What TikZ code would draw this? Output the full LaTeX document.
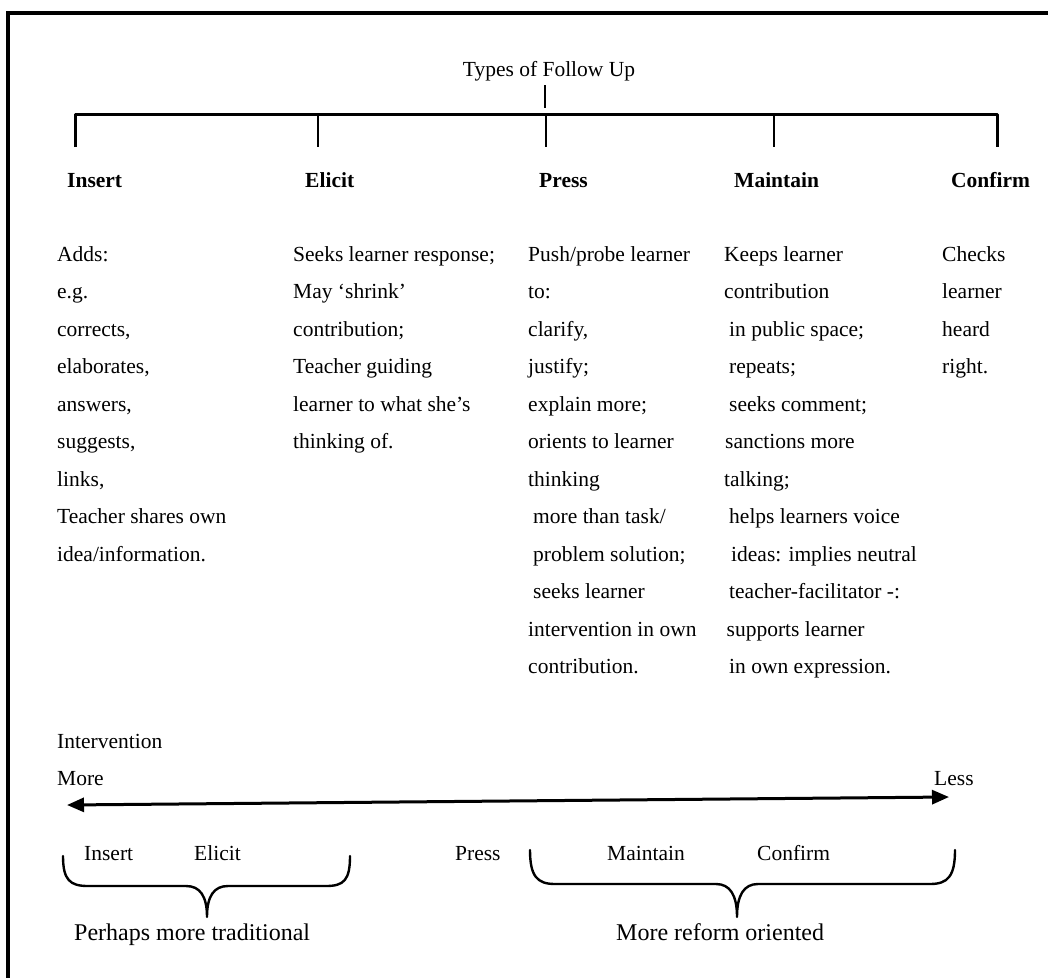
\documentclass[tikz,border=0pt]{standalone}
\usepackage{fontspec}
\setmainfont{Liberation Serif}
\usetikzlibrary{arrows.meta}
\newcommand{\firstline}{\rule{0pt}{16pt}}
\begin{document}
\begin{tikzpicture}[x=1pt,y=-1pt,
  txt/.style={inner sep=0pt, anchor=base west, font=\fontsize{21.5}{37.5}\selectfont},
  col/.style={txt, align=left, anchor=north west},
  head/.style={txt, font=\fontsize{21.5}{26}\selectfont\bfseries},
  captxt/.style={inner sep=0pt, anchor=base west, font=\fontsize{24}{28}\selectfont},
  tree/.style={line width=2pt},
  barline/.style={line width=3pt, line join=round},
  brace/.style={line width=2.4pt, line cap=round, line join=round},
  frame/.style={line width=3.5pt},
  scale arrow/.style={line width=3pt, {Triangle[length=17pt,width=14pt]}-{Triangle[length=17pt,width=14pt]}}
]
\useasboundingbox (0,0) rectangle (1048,977);
\clip (0,0) rectangle (1048,977);
\fill[white] (0,0) rectangle (1048,977);
% frame (cut off at right and bottom)
\draw[frame] (8,1100) -- (8,13) -- (1100,13);

% title and tree
\node[txt, anchor=base] (types) at (549,76) {Types of Follow Up};
\coordinate (stubtop) at (545,85);
\coordinate (stubbot) at (545,108);
\draw[tree] (stubtop) -- (stubbot);

\node[head] (hins) at (67,187) {Insert};
\node[head] (heli) at (305,187) {Elicit};
\node[head] (hpre) at (539,187) {Press};
\node[head] (hmai) at (734,187) {Maintain};
\node[head] (hcon) at (951,187) {Confirm};

\coordinate (b1) at (75,114);
\coordinate (b2) at (318,114);
\coordinate (b3) at (546,114);
\coordinate (b4) at (774,114);
\coordinate (b5) at (997,114);
\coordinate (e1) at (75,147);
\coordinate (e2) at (318,147);
\coordinate (e3) at (546,147);
\coordinate (e4) at (774,147);
\coordinate (e5) at (997,147);
\draw[barline] (e1) -- (b1) -- (b5) -- (e5);
\draw[tree] (b2) -- (e2);
\draw[tree] (b3) -- (e3);
\draw[tree] (b4) -- (e4);

% columns (first baseline at y = 261)
\node[col] (cins) at (57,245) {\firstline Adds:\\ e.g.\\ corrects,\\ elaborates,\\ answers,\\ suggests,\\ links,\\ Teacher shares own\\ idea/information.};
\node[col] (celi) at (293,245) {\firstline Seeks learner response;\\ May ‘shrink’\\ contribution;\\ Teacher guiding\\ learner to what she’s\\ thinking of.};
\node[col] (cpre) at (528,245) {\firstline Push/probe learner\\ to:\\ clarify,\\ justify;\\ explain more;\\ orients to learner\\ thinking\\ \hspace*{5pt}more than task/\\ \hspace*{5pt}problem solution;\\ \hspace*{5pt}seeks learner\\ intervention in own\\ contribution.};
\node[col] (cmai) at (724,245) {\firstline Keeps learner\\ contribution\\ \hspace*{5pt}in public space;\\ \hspace*{5pt}repeats;\\ \hspace*{5pt}seeks comment;\\ \hspace*{1pt}sanctions more\\ talking;\\ \hspace*{5pt}helps learners voice\\ \hspace*{7pt}ideas: implies neutral\\ \hspace*{5pt}teacher-facilitator -:\\ \hspace*{2.5pt}supports learner\\ \hspace*{5pt}in own expression.};
\node[col] (ccon) at (942,245) {\firstline Checks\\ learner\\ heard\\ right.};

% intervention scale
\node[txt] (interv) at (57,748) {Intervention};
\node[txt] (more) at (57,785) {More};
\node[txt] (less) at (934,785) {Less};
\coordinate (aleft) at (67,805);
\coordinate (aright) at (949,797);
\draw[scale arrow] (aleft) -- (aright);

% bottom labels
\node[txt] (lins) at (84,860) {Insert};
\node[txt] (leli) at (194,860) {Elicit};
\node[txt] (lpre) at (455,860) {Press};
\node[txt] (lmai) at (607,860) {Maintain};
\node[txt] (lcon) at (757,860) {Confirm};

% braces
\coordinate (lb1) at (63,856);
\coordinate (lbtip) at (207,917);
\coordinate (lb2) at (350,856);
\draw[brace] (lb1) .. controls (63,880) and (70,886) .. (88,886) -- (186,886)
  .. controls (200,886) and (207,896) .. (lbtip)
  .. controls (207,896) and (214,886) .. (228,886) -- (326,886)
  .. controls (344,886) and (350,880) .. (lb2);
\coordinate (rb1) at (530,850);
\coordinate (rbtip) at (737,917);
\coordinate (rb2) at (955,850);
\draw[brace] (rb1) .. controls (530,876) and (537,884) .. (555,884) -- (716,884)
  .. controls (730,884) and (737,895) .. (rbtip)
  .. controls (737,895) and (744,884) .. (758,884) -- (930,884)
  .. controls (948,884) and (955,876) .. (rb2);

\node[captxt] (trad) at (74,940) {Perhaps more traditional};
\node[captxt] (reform) at (616,940) {More reform oriented};
\end{tikzpicture}
\end{document}
